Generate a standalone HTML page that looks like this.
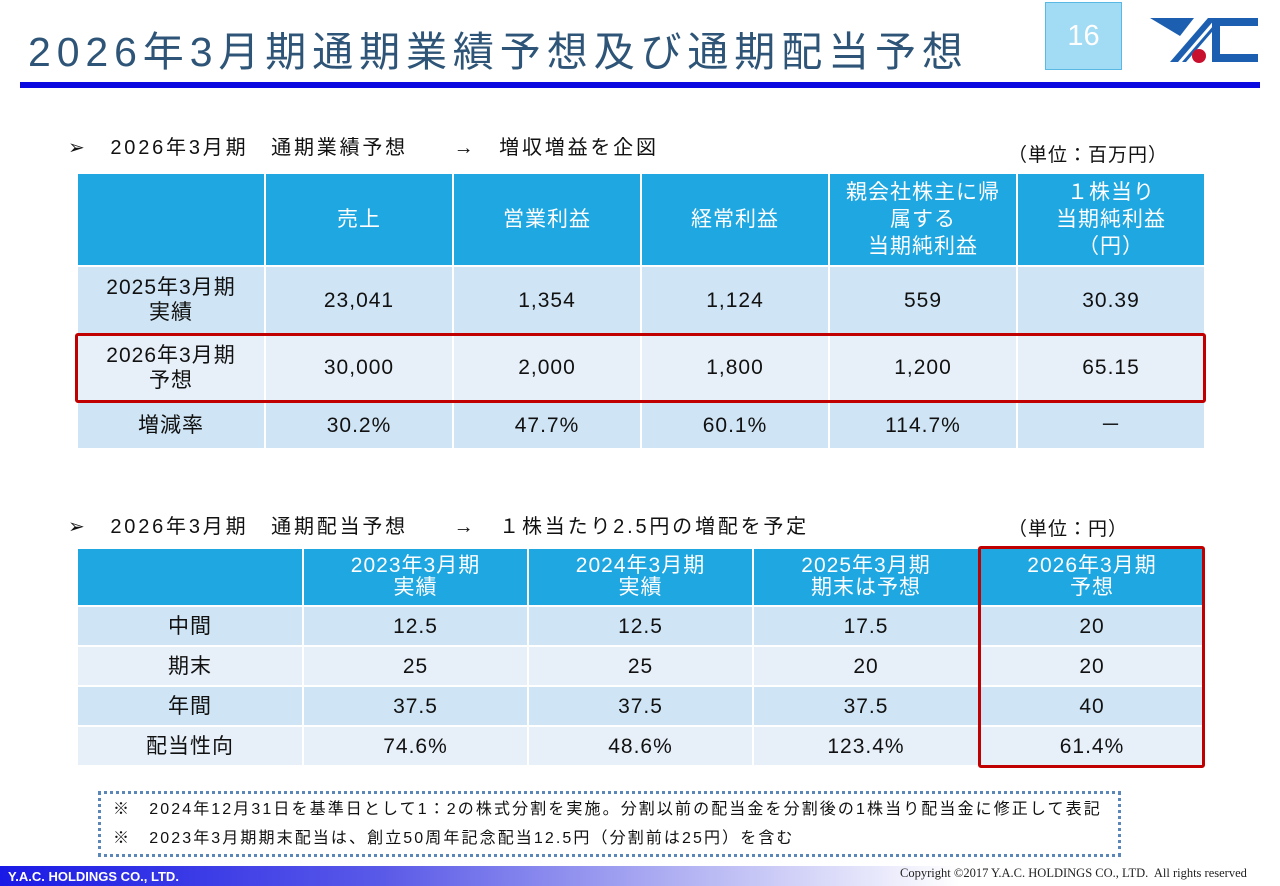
<!DOCTYPE html>
<html><head><meta charset="utf-8"><style>
*{margin:0;padding:0;box-sizing:border-box}
body{width:1280px;height:886px;position:relative;background:#fff;font-family:"Liberation Sans","Noto Sans CJK JP",sans-serif;overflow:hidden;color:#111}
.a{position:absolute}
table{position:absolute;border-collapse:collapse;table-layout:fixed}
td{border:2px solid #fff;text-align:center;vertical-align:middle;font-size:21px;line-height:25px;padding:0;letter-spacing:1px}
.h td{background:#1ea7e1;color:#fff}
.d1 td{background:#cfe4f4}
.d2 td{background:#e7f0f9}
.sec{font-size:20px;color:#111;letter-spacing:2.8px;white-space:nowrap}
</style></head><body>
<div class="a" style="left:28px;top:18px;font-size:41px;color:#2e5577;letter-spacing:5.9px;white-space:nowrap">2026年3月期通期業績予想及び通期配当予想</div>
<div class="a" style="left:1045px;top:2px;width:77px;height:68px;background:#a2dbf4;border:1px solid #5ab9e4;color:#fff;font-size:29px;text-align:center;line-height:66px">16</div>
<svg class="a" style="left:1150px;top:12px" width="110" height="55" viewBox="0 0 110 55">
<polygon points="0,6 44,6 30,24" fill="#1c5fb0"/>
<polygon points="58,6 66,6 28,50 20,50" fill="#1c5fb0"/>
<polygon points="70,6 74,6 36,50 32,50" fill="#1c5fb0"/>
<circle cx="49" cy="44" r="7" fill="#c8102e"/>
<polygon points="62,6 108,6 108,14 70,14 70,42 108,42 108,50 62,50" fill="#1c5fb0"/>
</svg>
<div class="a" style="left:20px;top:82px;width:1240px;height:6px;background:#0a0ae0"></div>

<div class="a sec" style="left:68px;top:131px">➢　2026年3月期　通期業績予想　　→　増収増益を企図</div>
<div class="a sec" style="left:1008px;top:140px;letter-spacing:1px;font-size:19px">（単位：百万円）</div>
<table style="left:76px;top:172px;width:1128px">
<colgroup><col style="width:188px"><col style="width:188px"><col style="width:188px"><col style="width:188px"><col style="width:188px"><col style="width:188px"></colgroup>
<tr class="h" style="height:93px"><td></td><td>売上</td><td>営業利益</td><td>経常利益</td><td style="line-height:27px">親会社株主に帰<br>属する<br>当期純利益</td><td style="line-height:27px">１株当り<br>当期純利益<br>（円）</td></tr>
<tr class="d1" style="height:68px"><td>2025年3月期<br>実績</td><td>23,041</td><td>1,354</td><td>1,124</td><td>559</td><td>30.39</td></tr>
<tr class="d2" style="height:67px"><td>2026年3月期<br>予想</td><td>30,000</td><td>2,000</td><td>1,800</td><td>1,200</td><td>65.15</td></tr>
<tr class="d1" style="height:48px"><td>増減率</td><td>30.2%</td><td>47.7%</td><td>60.1%</td><td>114.7%</td><td>－</td></tr>
</table>
<div class="a" style="left:75px;top:333px;width:1131px;height:70px;border:3px solid #c00000;border-radius:3px"></div>

<div class="a sec" style="left:68px;top:510px">➢　2026年3月期　通期配当予想　　→　１株当たり2.5円の増配を予定</div>
<div class="a sec" style="left:1008px;top:514px;letter-spacing:1px;font-size:19px">（単位：円）</div>
<table style="left:76px;top:547px;width:1128px">
<colgroup><col style="width:226px"><col style="width:225px"><col style="width:225px"><col style="width:226px"><col style="width:226px"></colgroup>
<tr class="h" style="height:58px"><td></td><td style="line-height:22px">2023年3月期<br>実績</td><td style="line-height:22px">2024年3月期<br>実績</td><td style="line-height:22px">2025年3月期<br>期末は予想</td><td style="line-height:22px">2026年3月期<br>予想</td></tr>
<tr class="d1" style="height:40px"><td>中間</td><td>12.5</td><td>12.5</td><td>17.5</td><td>20</td></tr>
<tr class="d2" style="height:40px"><td>期末</td><td>25</td><td>25</td><td>20</td><td>20</td></tr>
<tr class="d1" style="height:40px"><td>年間</td><td>37.5</td><td>37.5</td><td>37.5</td><td>40</td></tr>
<tr class="d2" style="height:40px"><td>配当性向</td><td>74.6%</td><td>48.6%</td><td>123.4%</td><td>61.4%</td></tr>
</table>
<div class="a" style="left:978px;top:546px;width:227px;height:222px;border:3px solid #c00000;border-radius:3px"></div>

<div class="a" style="left:98px;top:791px;width:1023px;height:66px;border:3px dotted #5b86b8;font-size:16px;line-height:29px;padding:1px 0 0 12px;letter-spacing:2.1px;white-space:nowrap">
<div>※　2024年12月31日を基準日として1：2の株式分割を実施。分割以前の配当金を分割後の1株当り配当金に修正して表記</div>
<div>※　2023年3月期期末配当は、創立50周年記念配当12.5円（分割前は25円）を含む</div>
</div>
<div class="a" style="left:0;top:866px;width:1280px;height:20px;background:linear-gradient(90deg,#1a1ae6 0%,#5a5ae8 30%,#b8b8f4 55%,#fff 75%)"></div>
<div class="a" style="left:8px;top:869px;font-size:13px;font-weight:bold;color:#fff">Y.A.C. HOLDINGS CO., LTD.</div>
<div class="a" style="left:900px;top:866px;font-family:'Liberation Serif',serif;font-size:12.5px;color:#222;white-space:nowrap">Copyright ©2017 Y.A.C. HOLDINGS CO., LTD.&nbsp; All rights reserved</div>
</body></html>
